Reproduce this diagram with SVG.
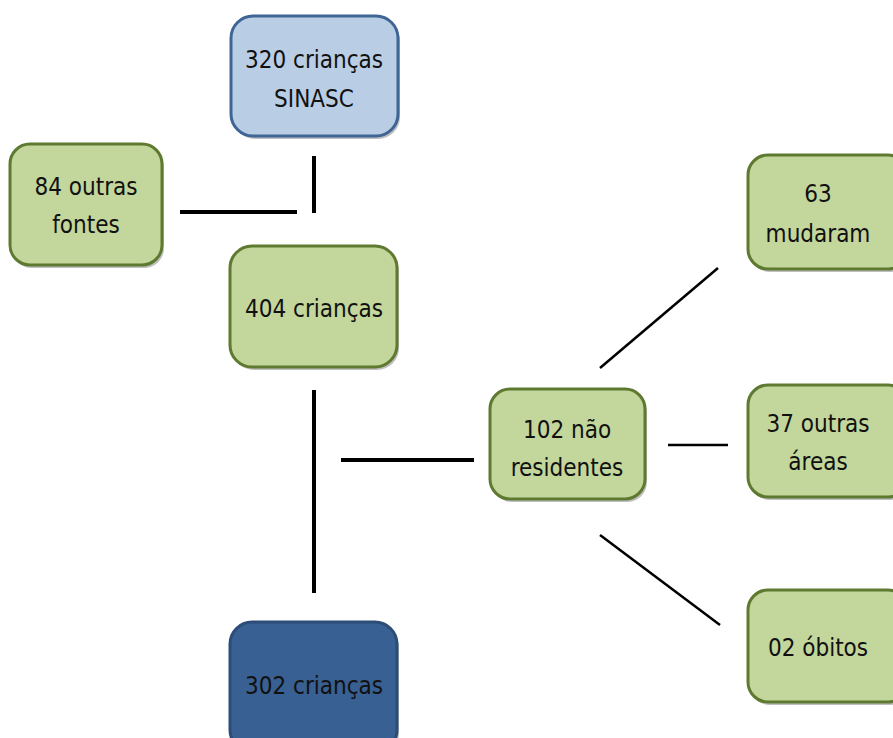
<svg xmlns="http://www.w3.org/2000/svg" width="893" height="738" viewBox="0 0 893 738">
<style>
.g{fill:#C3D69B;stroke:#5E7A30;stroke-width:3}
.lb{fill:#B9CDE5;stroke:#3F6595;stroke-width:3}
.db{fill:#386092;stroke:#2C4D77;stroke-width:3}
.sh{fill:#000;opacity:0.25}
text{font-family:"DejaVu Sans Condensed","Liberation Sans",sans-serif;font-size:24px;fill:#111;text-anchor:middle}
.c line{stroke:#000;stroke-width:4;stroke-linecap:butt}
.c line.t{stroke-width:2.5}
</style>
<rect width="893" height="738" fill="#fff"/>
<g class="c" id="connectors">
<line x1="180" y1="212" x2="297" y2="212"/>
<line x1="314" y1="156" x2="314" y2="213"/>
<line x1="314" y1="390" x2="314" y2="593"/>
<line x1="341" y1="460" x2="474" y2="460"/>
<line class="t" x1="668" y1="445" x2="728" y2="445"/>
<line class="t" x1="600" y1="368" x2="718" y2="268"/>
<line class="t" x1="600" y1="535" x2="720" y2="625"/>
</g>
<g id="n320">
<rect class="sh" x="233" y="19" width="167" height="120" rx="22"/>
<rect class="lb" x="231" y="16" width="167" height="120" rx="22"/>
<text x="314" y="68">320 crianças</text>
<text x="314" y="107">SINASC</text>
</g>
<g id="n84">
<rect class="sh" x="12" y="147" width="152" height="121" rx="20"/>
<rect class="g" x="10" y="144" width="152" height="121" rx="20"/>
<text x="86" y="195">84 outras</text>
<text x="86" y="233">fontes</text>
</g>
<g id="n404">
<rect class="sh" x="232" y="249" width="167" height="121" rx="22"/>
<rect class="g" x="230" y="246" width="167" height="121" rx="22"/>
<text x="314" y="317">404 crianças</text>
</g>
<g id="n302">
<rect class="sh" x="232" y="625" width="167" height="130" rx="22"/>
<rect class="db" x="230" y="622" width="167" height="130" rx="22"/>
<text x="314" y="694">302 crianças</text>
</g>
<g id="n102">
<rect class="sh" x="492" y="392" width="155" height="110" rx="20"/>
<rect class="g" x="490" y="389" width="155" height="110" rx="20"/>
<text x="567" y="438">102 não</text>
<text x="567" y="476">residentes</text>
</g>
<g id="n63">
<rect class="sh" x="750" y="158" width="160" height="114" rx="20"/>
<rect class="g" x="748" y="155" width="160" height="114" rx="20"/>
<text x="818" y="202">63</text>
<text x="818" y="242">mudaram</text>
</g>
<g id="n37">
<rect class="sh" x="750" y="388" width="160" height="112" rx="20"/>
<rect class="g" x="748" y="385" width="160" height="112" rx="20"/>
<text x="818" y="432">37 outras</text>
<text x="818" y="470">áreas</text>
</g>
<g id="n02">
<rect class="sh" x="750" y="593" width="160" height="112" rx="20"/>
<rect class="g" x="748" y="590" width="160" height="112" rx="20"/>
<text x="818" y="656">02 óbitos</text>
</g>
</svg>
